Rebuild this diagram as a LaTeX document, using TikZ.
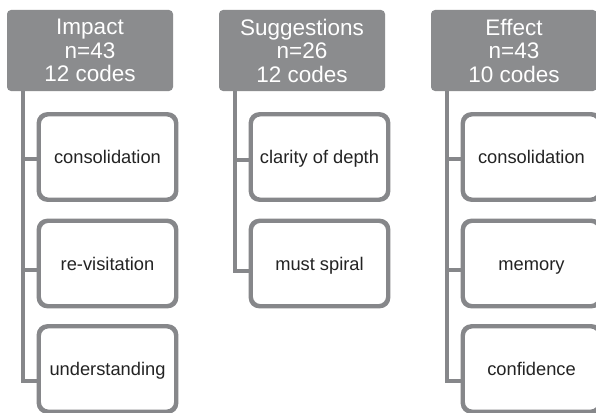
\documentclass[tikz,border=0pt]{standalone}
\usepackage{fontspec}
\setmainfont{Liberation Sans}
\definecolor{hdrgray}{RGB}{139,140,142}
\definecolor{linegray}{RGB}{134,135,138}
\definecolor{txtdark}{RGB}{35,35,35}
\begin{document}
\begin{tikzpicture}[x=1pt,y=-1pt,
  hdr/.style={fill=hdrgray, draw=none, rounded corners=4pt, minimum width=166pt, minimum height=81pt,
    inner sep=0pt, align=center, text=white, font=\fontsize{22.5}{23.5}\selectfont},
  child/.style={draw=linegray, line width=2.8pt, fill=white, rounded corners=9pt, minimum width=136pt,
    minimum height=84pt, inner sep=0pt, text=txtdark, text height=13pt, text depth=0pt,
    font=\fontsize{18.3}{20}\selectfont},
  conn/.style={draw=linegray, line width=4pt}]
\clip (0,0) rectangle (596,412);
\fill[white] (0,0) rectangle (596,412);
% column 1
\node[hdr] (h1) at (90,50.5) {Impact\\n=43\\12 codes};
\node[child] (c11) at (107.5,157) {consolidation};
\node[child] (c12) at (107.5,263.5) {re-visitation};
\node[child] (c13) at (107.5,369) {understanding};
% column 2
\node[hdr] (h2) at (302,50.5) {Suggestions\\n=26\\12 codes};
\node[child] (c21) at (319.5,157) {clarity of depth};
\node[child] (c22) at (319.5,263.5) {must spiral};
% column 3
\node[hdr] (h3) at (514,50.5) {Effect\\n=43\\10 codes};
\node[child] (c31) at (531.5,157) {consolidation};
\node[child] (c32) at (531.5,263.5) {memory};
\node[child] (c33) at (531.5,369) {confidence};
% connectors
\foreach \h/\a/\b/\c in {h1/c11/c12/c13, h3/c31/c32/c33}{
  \draw[conn] ([xshift=16pt]\h.south west) |- ([yshift=-2pt]\a.west);
  \draw[conn] ([xshift=16pt]\h.south west) |- ([yshift=-6.5pt]\b.west);
  \draw[conn] ([xshift=16pt]\h.south west) |- ([yshift=-12pt]\c.west);
}
\draw[conn] ([xshift=16pt]h2.south west) |- ([yshift=-2.5pt]c21.west);
\draw[conn] ([xshift=16pt]h2.south west) |- ([yshift=-7pt]c22.west);
% redraw child borders on top of stubs
\foreach \n in {c11,c12,c13,c21,c22,c31,c32,c33}{
  \draw[draw=linegray, line width=2.8pt, rounded corners=9pt] (\n.north west) rectangle (\n.south east);
}
\end{tikzpicture}
\end{document}
